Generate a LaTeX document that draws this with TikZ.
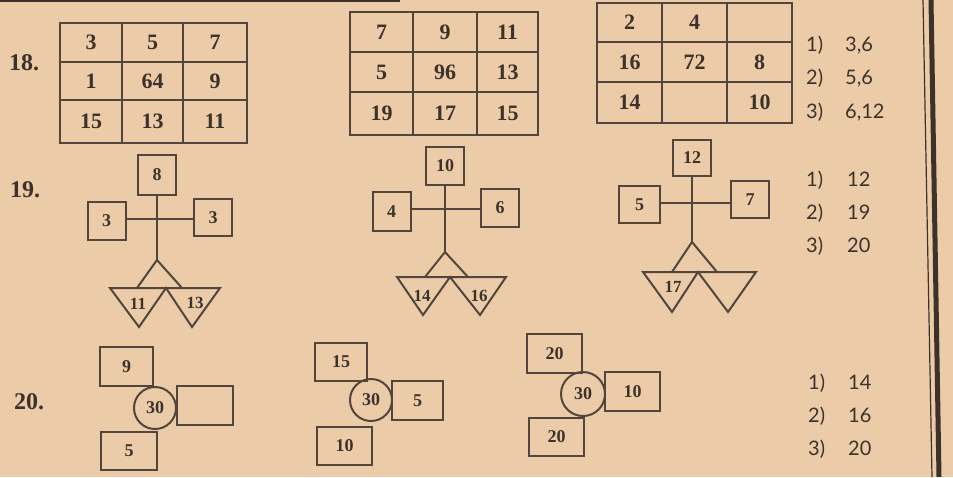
\documentclass[tikz,border=0pt]{standalone}
\usepackage{fontspec}
\setmainfont{Liberation Serif}
\newfontfamily\ansfont{Lato}
\usetikzlibrary{shapes.geometric}
\definecolor{paper}{RGB}{236,204,168}
\definecolor{ink}{RGB}{60,50,43}
\definecolor{rule}{RGB}{82,70,60}
\newcommand\gcell[6]{\node[gridcell,minimum width=#4pt,minimum height=#5pt] (#1) at (#2,#3) {#6};}
\tikzset{
  gridcell/.style={draw=rule,line width=2.3pt,inner sep=0pt,text=ink,font=\bfseries\fontsize{22}{22}\selectfont},
  sbox/.style={draw=rule,line width=2pt,inner sep=0pt,minimum width=38pt,minimum height=38pt,text=ink,font=\bfseries\fontsize{18}{18}\selectfont},
  bbox/.style={draw=rule,line width=2.1pt,inner sep=0pt,minimum height=39pt,text=ink,font=\bfseries\fontsize{18}{18}\selectfont},
  ring/.style={circle,draw=rule,line width=2pt,inner sep=0pt,minimum size=42pt,fill=paper,text=ink,font=\bfseries\fontsize{18}{18}\selectfont},
  conn/.style={draw=rule,line width=2pt},
  tri/.style={draw=rule,line width=2pt,line join=miter},
  trilabel/.style={inner sep=0pt,text=ink,font=\bfseries\fontsize{17}{17}\selectfont},
  qnum/.style={anchor=west,inner sep=0pt,text=ink,font=\bfseries\fontsize{24}{24}\selectfont},
  ans/.style={anchor=west,inner sep=0pt,text=ink,font=\ansfont\fontsize{20}{20}\selectfont},
}
\begin{document}
\begin{tikzpicture}[x=1pt,y=-1pt]
\fill[paper] (0,0) rectangle (953,477);
\useasboundingbox (0,0) rectangle (953,477);
% page edge and column rules
\draw[ink,line width=1.5pt] (0,1) -- (400,1);
\draw[ink,line width=1.2pt] (923,0) -- (932,477);
\draw[ink,line width=5pt] (931,0) -- (939,477);

% ---------- 18 ----------
\node[qnum] (q18) at (9,63) {18.};
\gcell{a11}{91}{42.5}{62}{39}{3}
\gcell{a12}{152.5}{42.5}{61}{39}{5}
\gcell{a13}{215}{42.5}{64}{39}{7}
\gcell{a21}{91}{81}{62}{38}{1}
\gcell{a22}{152.5}{81}{61}{38}{64}
\gcell{a23}{215}{81}{64}{38}{9}
\gcell{a31}{91}{121.5}{62}{43}{15}
\gcell{a32}{152.5}{121.5}{61}{43}{13}
\gcell{a33}{215}{121.5}{64}{43}{11}

\gcell{b11}{381.5}{32}{63}{40}{7}
\gcell{b12}{445}{32}{64}{40}{9}
\gcell{b13}{507.5}{32}{61}{40}{11}
\gcell{b21}{381.5}{72}{63}{40}{5}
\gcell{b22}{445}{72}{64}{40}{96}
\gcell{b23}{507.5}{72}{61}{40}{13}
\gcell{b31}{381.5}{113.5}{63}{43}{19}
\gcell{b32}{445}{113.5}{64}{43}{17}
\gcell{b33}{507.5}{113.5}{61}{43}{15}

\gcell{c11}{629.5}{22.5}{65}{39}{2}
\gcell{c12}{694.5}{22.5}{65}{39}{4}
\gcell{c13}{759.5}{22.5}{65}{39}{}
\gcell{c21}{629.5}{62}{65}{40}{16}
\gcell{c22}{694.5}{62}{65}{40}{72}
\gcell{c23}{759.5}{62}{65}{40}{8}
\gcell{c31}{629.5}{102.5}{65}{41}{14}
\gcell{c32}{694.5}{102.5}{65}{41}{}
\gcell{c33}{759.5}{102.5}{65}{41}{10}

\node[ans] (a18a) at (806,45) {\makebox[39pt][l]{1)}3,6};
\node[ans] (a18b) at (806,78) {\makebox[39pt][l]{2)}5,6};
\node[ans] (a18c) at (806,112) {\makebox[39pt][l]{3)}6,12};

% ---------- 19 ----------
\node[qnum] (q19) at (10,190) {19.};
% first figure
\node[sbox,minimum height=40pt] (p1t) at (157,175) {8};
\node[sbox] (p1l) at (106.5,221) {3};
\node[sbox,minimum height=37pt] (p1r) at (213,217.5) {3};
\coordinate (p1a) at (157,260);
\coordinate (p1h) at (157,219);
\draw[conn] (p1t.south) -- (p1a);
\draw[conn] (p1l.east |- p1h) -- (p1r.west |- p1h);
\draw[tri] (137,288) -- (p1a) -- (182,288);
\draw[tri] (110,288) -- (139,327) -- (166,288) -- (192,327) -- (220,288) -- cycle;
\node[trilabel] (p1x) at (138,304) {11};
\node[trilabel] (p1y) at (195,303) {13};
% second figure
\node[sbox] (p2t) at (445,166) {10};
\node[sbox,minimum height=39pt] (p2l) at (391.5,211.5) {4};
\node[sbox] (p2r) at (500,208) {6};
\coordinate (p2a) at (445,252);
\coordinate (p2h) at (445,209);
\draw[conn] (p2t.south) -- (p2a);
\draw[conn] (p2l.east |- p2h) -- (p2r.west |- p2h);
\draw[tri] (425,277) -- (p2a) -- (468,277);
\draw[tri] (397,277) -- (423,315) -- (450,277) -- (480,315) -- (506,277) -- cycle;
\node[trilabel] (p2x) at (422,296) {14};
\node[trilabel] (p2y) at (479,296) {16};
% third figure
\node[sbox,minimum height=36pt] (p3t) at (692,158) {12};
\node[sbox,minimum width=41pt,minimum height=37pt] (p3l) at (639.5,204.5) {5};
\node[sbox,minimum height=37pt] (p3r) at (750,199.5) {7};
\coordinate (p3a) at (692,242);
\coordinate (p3h) at (692,203);
\draw[conn] (p3t.south) -- (p3a);
\draw[conn] (p3l.east |- p3h) -- (p3r.west |- p3h);
\draw[tri] (672,272) -- (p3a) -- (717,272);
\draw[tri] (643,272) -- (672,312) -- (698,272) -- (728,312) -- (756,272) -- cycle;
\node[trilabel] (p3x) at (673,287) {17};

\node[ans] (a19a) at (806,180) {\makebox[41pt][l]{1)}12};
\node[ans] (a19b) at (806,213) {\makebox[41pt][l]{2)}19};
\node[ans] (a19c) at (806,246) {\makebox[41pt][l]{3)}20};

% ---------- 20 ----------
\node[qnum] (q20) at (14,402) {20.};
% first
\node[ring] (r1c) at (155,408) {30};
\node[bbox,minimum width=53pt] (r1t) at (126.5,366.5) {9};
\node[bbox,minimum width=56pt] (r1r) at (205,405.5) {};
\node[bbox,minimum width=56pt,minimum height=38pt] (r1b) at (129,451) {5};
% second
\node[ring] (r2c) at (371,400) {30};
\node[bbox,minimum width=52pt,minimum height=38pt] (r2t) at (341,362) {15};
\node[bbox,minimum width=51pt] (r2r) at (417.5,400.5) {5};
\node[bbox,minimum width=55pt,minimum height=38pt] (r2b) at (344.5,446) {10};
% third
\node[ring,minimum size=44pt] (r3c) at (583,394) {30};
\node[bbox,minimum width=55pt] (r3t) at (554.5,353.5) {20};
\node[bbox,minimum width=55pt] (r3r) at (632.5,391.5) {10};
\node[bbox,minimum width=55pt,minimum height=38pt] (r3b) at (556.5,437) {20};

\node[ans] (a20a) at (808,383) {\makebox[40pt][l]{1)}14};
\node[ans] (a20b) at (808,416) {\makebox[40pt][l]{2)}16};
\node[ans] (a20c) at (808,449) {\makebox[40pt][l]{3)}20};
\end{tikzpicture}
\end{document}
